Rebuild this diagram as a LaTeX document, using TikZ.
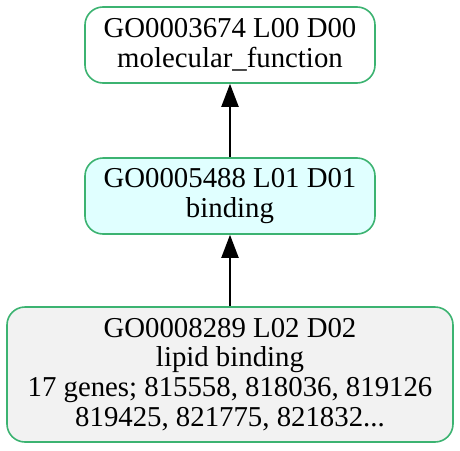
\documentclass[tikz,border=0pt]{standalone}
\usepackage{xcolor}
\usepackage{fontspec}
\setmainfont{Liberation Serif}
\usetikzlibrary{arrows.meta,positioning}
\definecolor{termborder}{HTML}{3CB371}
\definecolor{bindfill}{HTML}{E0FFFF}
\definecolor{leaffill}{HTML}{F2F2F2}

\begin{document}
\begin{tikzpicture}[font=\fontsize{28.8}{29.8}\selectfont,
  term/.style={draw=termborder,line width=1.6pt,rounded corners=18pt,align=center,inner sep=0pt},
  isa/.style={-{Triangle[width=17pt,length=23pt]},line width=2pt}]
  \useasboundingbox (0pt,0pt) rectangle (460pt,-450pt);
  % Root term
  \node[term,fill=white,minimum width=290pt,minimum height=76pt] (mf) at (230pt,-45pt)
    {GO0003674 L00 D00\\molecular\_function};
  % Level 1
  \node[term,fill=bindfill,minimum width=290pt,minimum height=76pt] (bind) at (230pt,-196pt)
    {GO0005488 L01 D01\\binding};
  % Level 2, with genes
  \node[term,fill=leaffill,minimum width=446pt,minimum height=135pt] (lipid) at (230pt,-374.5pt)
    {GO0008289 L02 D02\\lipid binding\\17 genes; 815558, 818036, 819126\\819425, 821775, 821832...};
  % Edges
  \draw[isa] (bind) -- (mf);
  \draw[isa] (lipid) -- (bind);
\end{tikzpicture}
\end{document}
